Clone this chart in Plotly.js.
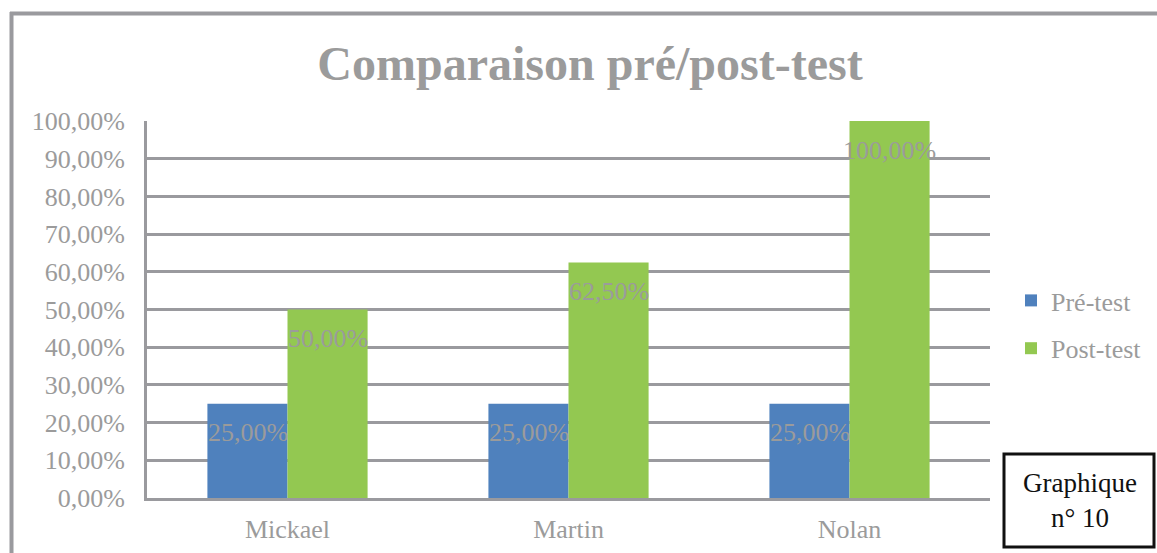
<!DOCTYPE html>
<html>
<head>
<meta charset="utf-8">
<script src="https://cdn.plot.ly/plotly-3.0.1.min.js"></script>
<style>html,body{margin:0;padding:0;background:#fff;} #chart{width:1157px;height:553px;}</style>
</head>
<body>
<div id="chart"></div>
<script>
// ---- data ----
const categories = ["Mickael", "Martin", "Nolan"];
const seriesNames = ["Pré-test", "Post-test"];
const preTest = [0.25, 0.25, 0.25];
const postTest = [0.50, 0.625, 1.00];
const labelsPre = ["25,00%", "25,00%", "25,00%"];
const labelsPost = ["50,00%", "62,50%", "100,00%"];

// ---- layout helpers (pixel -> paper / container) ----
const W = 1157, H = 553;
const L = 147, R = 990, T = 121, B = 498;
const pw = R - L, ph = B - T;
const px = x => (x - L) / pw;
const py = y => (B - y) / ph;

const gray = '#9a9a9e';
const textGray = '#9b9b9b';
const serif = '"Liberation Serif", "Times New Roman", serif';

const traces = [
  {type: 'bar', name: seriesNames[0], x: categories, y: preTest,
   marker: {color: '#4f81bd'}, legendgroup: 'a', hoverinfo: 'none'},
  {type: 'bar', name: seriesNames[1], x: categories, y: postTest,
   marker: {color: '#93c851'}, legendgroup: 'b', hoverinfo: 'none'}
];

const annotations = [];
categories.forEach((c, i) => {
  annotations.push({x: c, y: preTest[i], xref: 'x', yref: 'y', text: labelsPre[i],
    showarrow: false, xshift: -40, yshift: -29, yanchor: 'middle',
    font: {family: serif, size: 26, color: textGray}});
  annotations.push({x: c, y: postTest[i], xref: 'x', yref: 'y', text: labelsPost[i],
    showarrow: false, xshift: 40, yshift: -29, yanchor: 'middle',
    font: {family: serif, size: 26, color: textGray}});
});
annotations.push({x: px(1080), y: py(500), xref: 'paper', yref: 'paper',
  text: 'Graphique<br>n° 10', showarrow: false, xanchor: 'center', yanchor: 'middle',
  font: {family: serif, size: 27, color: '#111'}});

const layout = {
  width: W, height: H,
  margin: {l: L, r: W - R, t: T, b: H - B, pad: 0},
  paper_bgcolor: '#fff', plot_bgcolor: '#fff',
  separators: ', ',
  title: {text: 'Comparaison pré/post-test', xref: 'container', yref: 'container',
    x: 590 / W, xanchor: 'center', y: 1 - 63 / H, yanchor: 'middle',
    font: {family: serif, size: 48, color: textGray, weight: 'bold'}},
  barmode: 'group', bargap: 0.43, bargroupgap: 0,
  showlegend: true,
  legend: {xref: 'container', yref: 'container', x: 1011 / W, xanchor: 'left',
    y: 1 - 277 / H, yanchor: 'top',
    traceorder: 'grouped', tracegroupgap: 11,
    font: {family: serif, size: 26, color: textGray}, bgcolor: 'rgba(0,0,0,0)'},
  xaxis: {showline: true, linecolor: gray, linewidth: 3, ticks: '', showgrid: false,
    tickfont: {family: serif, size: 26, color: textGray}, ticklabelstandoff: 6, fixedrange: true},
  yaxis: {range: [0, 1], dtick: 0.1, tick0: 0, tickformat: '.2%',
    showline: true, linecolor: gray, linewidth: 3, showgrid: true, gridcolor: gray, gridwidth: 3,
    zeroline: false, ticks: '', ticklabelstandoff: 14,
    tickfont: {family: serif, size: 26, color: textGray}, fixedrange: true},
  shapes: [
    {type: 'line', xref: 'paper', yref: 'paper', x0: px(10), x1: px(1160), y0: py(13.5), y1: py(13.5),
     line: {color: gray, width: 4}},
    {type: 'line', xref: 'paper', yref: 'paper', x0: px(11.5), x1: px(11.5), y0: py(12), y1: py(560),
     line: {color: gray, width: 4}},
    {type: 'rect', xref: 'paper', yref: 'paper', x0: px(1004), x1: px(1154), y0: py(454), y1: py(547),
     line: {color: '#111', width: 3}, fillcolor: '#fff'}
  ],
  annotations: annotations
};

Plotly.newPlot('chart', traces, layout, {staticPlot: true, displayModeBar: false});
</script>
</body>
</html>
